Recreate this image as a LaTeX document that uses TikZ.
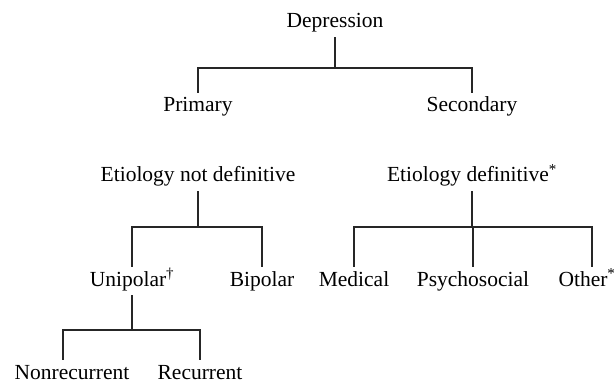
\documentclass[tikz,border=0pt]{standalone}
\usepackage{fontspec}
\setmainfont{Liberation Serif}
\begin{document}
\begin{tikzpicture}[x=1pt,y=-1pt,
  lbl/.style={anchor=base,inner xsep=0pt,inner ysep=5pt,text height=14pt,text depth=4pt,font=\fontsize{21.5}{24}\selectfont},
  botlbl/.style={lbl,text depth=0pt},
  conn/.style={line width=1.1pt,black!85}]
\useasboundingbox (0,0) rectangle (616,385);
% nodes
\node[lbl] (dep) at (335,28) {Depression};
\node[lbl] (prim) at (198,112) {Primary};
\node[lbl] (sec) at (472,112) {Secondary};
\node[lbl] (end) at (198,182) {Etiology not definitive};
\node[lbl] (ed) at (472,182) {Etiology definitive\textsuperscript{*}};
\node[lbl] (uni) at (132,286) {Unipolar\textsuperscript{†}};
\node[lbl] (bip) at (262,286) {Bipolar};
\node[lbl] (med) at (354,286) {Medical};
\node[lbl] (psy) at (473,286) {Psychosocial};
\node[lbl] (oth) at (587,286) {Other\textsuperscript{*}};
\node[botlbl] (nonrec) at (72,379) {Nonrecurrent};
\node[botlbl] (rec) at (200,379) {Recurrent};
% junctions
\coordinate (j1) at (335,68);
\coordinate (j2) at (198,227);
\coordinate (j3) at (472,227);
\coordinate (j4) at (132,330);
% connectors
\draw[conn] (dep.south) -- (j1);
\draw[conn] (prim.north) |- (j1) -| (sec.north);
\draw[conn] (end.south) -- (j2);
\draw[conn] (uni.north) |- (j2) -| (bip.north);
\draw[conn] (ed.south -| j3) -- (j3);
\draw[conn] (med.north) |- (j3) -| (psy.north);
\draw[conn] (j3) -| ([xshift=5pt]oth.north);
\draw[conn] (uni.south) -- (j4);
\draw[conn] ([xshift=-9pt]nonrec.north) |- (j4) -| (rec.north);
\end{tikzpicture}
\end{document}
